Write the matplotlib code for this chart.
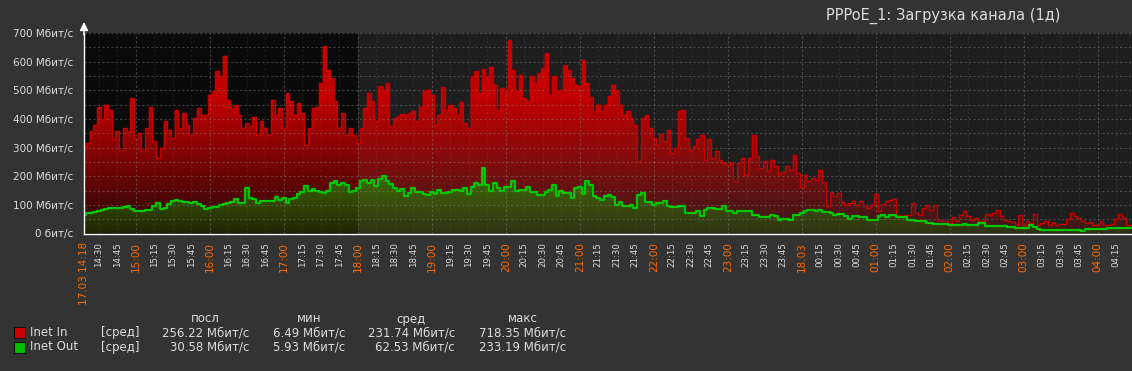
import numpy as np
import matplotlib
matplotlib.use('agg')
import matplotlib.pyplot as plt
from matplotlib.patches import Rectangle

# 3-minute samples starting 17.03 14:18, Mbit/s
inet_in = [
    298, 316, 357, 380, 440, 400, 450, 432, 330, 357, 290, 368, 357, 473, 333, 350,
    293, 368, 440, 322, 265, 300, 392, 362, 333, 430, 368, 420, 380, 345, 403, 438,
    415, 415, 485, 496, 568, 549, 620, 467, 438, 447, 415, 368, 386, 374, 405, 345,
    392, 368, 345, 467, 415, 438, 368, 490, 461, 415, 455, 420, 310, 368, 438, 440,
    525, 653, 572, 543, 461, 370, 420, 345, 368, 345, 316, 368, 438, 490, 461, 392,
    514, 502, 525, 374, 403, 409, 417, 415, 420, 426, 392, 443, 496, 502, 485,
    380, 415, 510, 432, 447, 438, 415, 460, 386, 368, 549, 566, 490, 575, 549, 580,
    520, 432, 508, 502, 674, 572, 496, 555, 473, 461, 549, 525, 560, 578, 630, 485,
    549, 496, 502, 587, 572, 543, 520, 514, 607, 525, 475, 426, 450, 426, 450,
    479, 520, 500, 450, 415, 426, 403, 380, 252, 403, 412, 368, 333, 310, 347, 322,
    362, 281, 300, 426, 432, 333, 290, 304, 330, 345, 255, 330, 264, 287, 258, 246,
    240, 250, 182, 246, 264, 205, 264, 343, 270, 229, 252, 217, 258, 235, 208,
    215, 234, 223, 273, 211, 161, 205, 182, 194, 188, 223, 180, 95, 145, 130, 141,
    110, 100, 106, 115, 100, 112, 95, 89, 100, 138, 77, 103, 112, 118, 121, 66,
    60, 63, 66, 106, 72, 66, 89, 100, 83, 100, 48, 42, 45, 37, 57,
    45, 66, 80, 60, 48, 54, 42, 45, 68, 66, 72, 83, 60, 48, 45, 40,
    31, 66, 29, 45, 37, 68, 31, 37, 45, 31, 40, 29, 33, 33, 50, 72,
    60, 54, 45, 37, 40, 31, 29, 42, 31, 29, 33, 52, 68, 54, 29, 29,
]
inet_out = [
    66, 70, 72, 76, 80, 83, 86, 89, 88, 89, 90, 92, 95, 84, 80, 80,
    79, 82, 83, 95, 108, 85, 88, 104, 112, 118, 112, 110, 110, 108, 110, 102,
    96, 85, 90, 91, 94, 100, 104, 106, 110, 120, 108, 106, 160, 125, 120, 108,
    112, 112, 112, 113, 128, 118, 124, 108, 121, 124, 138, 145, 165, 150, 157, 150,
    145, 140, 147, 178, 184, 171, 176, 170, 145, 147, 160, 182, 188, 176, 188, 165,
    190, 200, 182, 173, 160, 150, 155, 130, 141, 160, 145, 145, 138, 135, 145,
    138, 153, 141, 141, 145, 153, 153, 150, 160, 138, 161, 176, 171, 230, 171, 150,
    176, 159, 150, 164, 164, 182, 147, 153, 153, 161, 145, 145, 136, 136, 145, 153,
    171, 130, 147, 141, 141, 124, 159, 164, 138, 184, 171, 130, 124, 118, 130,
    136, 126, 100, 110, 95, 95, 100, 89, 136, 141, 110, 110, 98, 106, 106, 112,
    95, 91, 91, 95, 95, 72, 72, 72, 77, 60, 83, 89, 89, 87, 87, 95,
    77, 77, 72, 80, 80, 80, 80, 66, 66, 56, 56, 56, 66, 60, 48,
    52, 52, 48, 66, 66, 72, 80, 83, 83, 77, 83, 75, 75, 72, 66, 68,
    68, 60, 52, 60, 60, 57, 57, 48, 48, 48, 60, 66, 57, 63, 63, 57,
    57, 57, 48, 48, 45, 42, 42, 37, 37, 33, 33, 33, 33, 29, 29,
    29, 29, 33, 31, 31, 31, 36, 36, 25, 25, 25, 25, 25, 25, 22, 22,
    19, 19, 19, 19, 31, 22, 15, 13, 13, 13, 13, 13, 13, 13, 13, 13,
    13, 13, 10, 15, 15, 15, 15, 15, 15, 18, 18, 18, 18, 18, 18, 18,
]
step_min = 3
start_min = 14 * 60 + 18      # 14:18
span_min = 849.7              # visible part of the 1d graph
work_end = 18 * 60 - start_min

title = 'PPPoE_1: Загрузка канала (1д)'
legend_names = ['Inet In', 'Inet Out']
legend_colors = ['#cc0000', '#00c000']
legend_last = ['256.22 Мбит/с', '30.58 Мбит/с']
legend_min = ['6.49 Мбит/с', '5.93 Мбит/с']
legend_avg = ['231.74 Мбит/с', '62.53 Мбит/с']
legend_max = ['718.35 Мбит/с', '233.19 Мбит/с']
legend_heads = ['посл', 'мин', 'сред', 'макс']

W, H = 1132, 371
BG = '#333333'
TXT = '#dcdcdc'
ORANGE = '#ff6a00'


def px(x, y):
    return x / W, 1 - y / H


fig = plt.figure(figsize=(W / 100, H / 100), dpi=100, facecolor=BG)
ax = fig.add_axes([84 / W, (H - 233.5) / H, (W - 84) / W, 200.5 / H])
ax.set_facecolor('#1e1e1e')
ax.axvspan(0, work_end, color='#0a0a0a', zorder=0.5, lw=0)

t_in = np.arange(len(inet_in)) * step_min
t_out = np.arange(len(inet_out)) * step_min


def grad_fill(t, v, rgb, z):
    poly = ax.fill_between(t, 0, v, step='mid', facecolor='none', edgecolor='none')
    lv = np.linspace(0, 700, 256)
    img = np.zeros((256, 1, 4))
    img[..., :3] = rgb
    img[..., 3] = np.clip(0.16 + 0.0018 * lv, 0, 1)[:, None]
    im = ax.imshow(img, extent=[t[0], t[-1] + 2, 0, 700], origin='lower',
                   aspect='auto', zorder=z, interpolation='bilinear')
    im.set_clip_path(poly.get_paths()[0], ax.transData)


grad_fill(t_in, inet_in, (0.76, 0, 0), 1)
grad_fill(t_out, inet_out, (0, 0.76, 0), 2)

# grid
for v in range(50, 701, 50):
    ax.axhline(v, color='#909090', alpha=0.4, lw=0.8, ls=(0, (2, 2)), zorder=3)
ticks = list(np.arange(12, span_min, 15))
for m in ticks:
    hour = (start_min + m) % 60 == 0
    ax.axvline(m, color='#909090', alpha=0.4 if hour else 0.14, lw=0.8,
               ls=(0, (2, 2)), zorder=3)

ax.plot(t_in, inet_in, color='#c80000', lw=1, drawstyle='steps-mid', zorder=4)
ax.plot(t_out, inet_out, color='#00c800', lw=1.6, drawstyle='steps-mid', zorder=5)

ax.set_xlim(0, span_min)
ax.set_ylim(0, 700)

for s in ['top', 'right']:
    ax.spines[s].set_visible(False)
for s in ['left', 'bottom']:
    ax.spines[s].set_color('white')
    ax.spines[s].set_linewidth(1)
    ax.spines[s].set_zorder(6)
ax.annotate('', xy=(0, 1.055), xycoords='axes fraction', xytext=(0, 0.99),
            arrowprops=dict(arrowstyle='-|>,head_width=0.25,head_length=0.5',
                            color='white', lw=1, shrinkA=0, shrinkB=0),
            annotation_clip=False)

# y labels
ax.set_yticks(range(0, 701, 100))
ax.set_yticklabels(['0 бит/с'] + ['%d Мбит/с' % v for v in range(100, 701, 100)])
ax.tick_params(axis='y', length=0, pad=8, labelsize=7.5, labelcolor=TXT)

# x labels
xt = [0] + ticks
labels = []
for m in xt:
    tm = (start_min + int(m)) % 1440
    if m == 0:
        labels.append('17.03 14:18')
    elif tm == 0:
        labels.append('18.03')
    else:
        labels.append('%02d:%02d' % (tm // 60, tm % 60))
ax.set_xticks(xt)
ax.set_xticklabels(labels, rotation=90)
ax.tick_params(axis='x', length=0, pad=6)
for m, lab in zip(xt, ax.get_xticklabels()):
    tm = (start_min + int(m)) % 1440
    if m == 0 or tm % 60 == 0:
        lab.set_color(ORANGE)
        lab.set_fontsize(7.5)
    else:
        lab.set_color(TXT)
        lab.set_fontsize(6.2)

fig.text(*px(943, 16), title, ha='center', va='center', fontsize=10.5, color=TXT)

# legend
for x, head in zip([205, 309, 411, 523], legend_heads):
    fig.text(*px(x, 319), head, ha='center', va='center', fontsize=8.5, color=TXT)
for i, name in enumerate(legend_names):
    y = 332.5 + 14.5 * i
    fig.patches.append(Rectangle(px(14, y + 5.5), 11 / W, 11 / H, transform=fig.transFigure,
                                 facecolor=legend_colors[i], edgecolor='#111111', lw=0.8))
    fig.text(*px(30, y), name, ha='left', va='center', fontsize=8.5, color=TXT)
    fig.text(*px(101, y), '[сред]', ha='left', va='center', fontsize=8.5, color=TXT)
    for x, vals in zip([249, 345, 455, 566], [legend_last, legend_min, legend_avg, legend_max]):
        fig.text(*px(x, y), vals[i], ha='right', va='center', fontsize=8.5, color=TXT)

fig.savefig('out.png', dpi=100, facecolor=BG)
